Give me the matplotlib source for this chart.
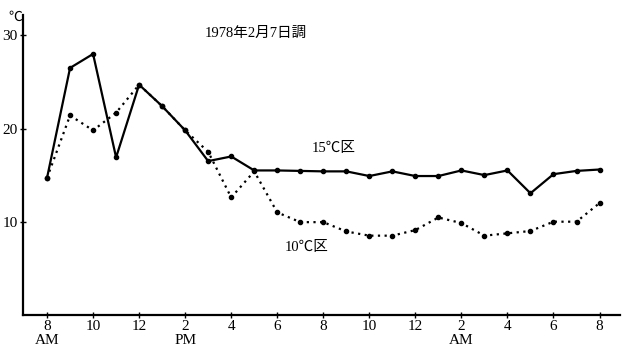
import matplotlib
matplotlib.use('Agg')
import matplotlib.pyplot as plt

plt.rcParams['font.family'] = ['Liberation Serif', 'Noto Sans CJK JP']

hours = list(range(8, 33))
temp_15 = [14.7, 26.5, 28.0, 16.9, 24.7, 22.4, 19.8, 16.5, 17.0, 15.5, 15.5, 15.45,
           15.4, 15.4, 14.9, 15.4, 14.9, 14.9, 15.5, 15.0, 15.5, 13.05, 15.1, 15.45, 15.6]
temp_10 = [14.7, 21.4, 19.8, 21.7, 24.7, 22.4, 19.8, 17.5, 12.6, 15.4, 11.0, 9.95,
           9.95, 8.95, 8.5, 8.5, 9.1, 10.45, 9.85, 8.5, 8.75, 9.0, 10.0, 10.0, 12.0]
tick_hours = list(range(8, 33, 2))
tick_labels = ['8\nAM', '10', '12', '2\nPM', '4', '6', '8', '10', '12', '2\nAM', '4', '6', '8']

fig = plt.figure(figsize=(6.24, 3.53), dpi=100)
ax = fig.add_axes([0.037, 0.108, 0.957, 0.85])

ax.plot(hours, temp_15, color='black', lw=1.6, marker='o', ms=3)
ax.plot(hours, temp_10, color='black', lw=1.6, ls=(0, (1, 2)), marker='o', ms=3)

ax.set_xlim(6.96, 32.9)
ax.set_ylim(0, 32.2)
ax.set_xticks(tick_hours)
ax.set_xticklabels(tick_labels, fontsize=11, linespacing=1.05)
ax.set_yticks([10, 20, 30])
ax.set_yticklabels(['10', '20', '30'], fontsize=11)
ax.tick_params(direction='inout', length=4, width=1, pad=2)
ax.spines['top'].set_visible(False)
ax.spines['right'].set_visible(False)
ax.spines['left'].set_linewidth(1.6)
ax.spines['bottom'].set_linewidth(1.6)

fig.text(8 / 624, 1 - 17 / 353, '℃', fontsize=10, va='center', ha='left',
         family=['Noto Sans CJK JP'])
fig.text(205 / 624, 1 - 33 / 353, '1978年2月7日調', fontsize=10.5, va='center', ha='left')
fig.text(312 / 624, 1 - 148 / 353, '15℃区', fontsize=10.5, va='center', ha='left')
fig.text(285 / 624, 1 - 248 / 353, '10℃区', fontsize=10.5, va='center', ha='left')

fig.savefig('out.png', dpi=100)
